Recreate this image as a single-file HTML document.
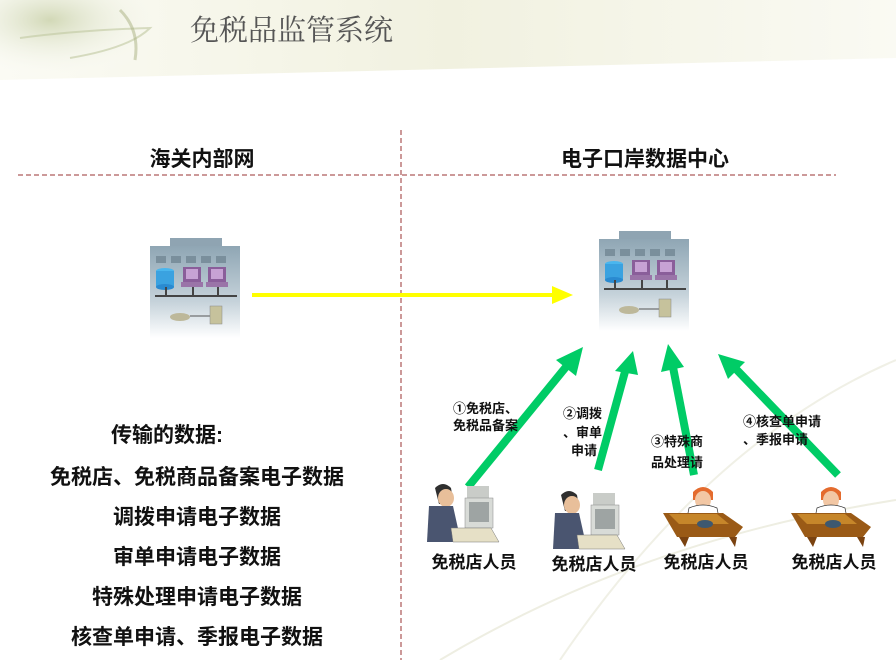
<!DOCTYPE html>
<html><head><meta charset="utf-8"><style>
html,body{margin:0;padding:0}
body{width:896px;height:660px;overflow:hidden;background:#fff;font-family:"Liberation Sans","Noto Sans CJK SC",sans-serif}
</style></head><body>
<svg width="896" height="660" viewBox="0 0 896 660" xmlns="http://www.w3.org/2000/svg" style="position:absolute;left:0;top:0">
<defs>
<linearGradient id="hdr" x1="0" y1="0" x2="1" y2="0">
<stop offset="0" stop-color="#fbfbf4"/><stop offset="0.5" stop-color="#f1f1e0"/><stop offset="1" stop-color="#fafaf3"/></linearGradient>
<linearGradient id="bld" x1="0" y1="0" x2="0" y2="1">
<stop offset="0" stop-color="#8fa6b4"/><stop offset="0.6" stop-color="#c5d2da"/><stop offset="1" stop-color="#ffffff"/></linearGradient>
<radialGradient id="sw" cx="0.25" cy="0.2" r="0.6"><stop offset="0" stop-color="#c8d0a8" stop-opacity="0.8"/><stop offset="1" stop-color="#fff" stop-opacity="0"/></radialGradient>
<g id="b">
<rect x="20" y="0" width="52" height="10" fill="#8fa4b2"/>
<rect x="0" y="8" width="90" height="92" fill="url(#bld)"/>
<g fill="#7a8f9c"><rect x="6" y="18" width="10" height="7"/><rect x="21" y="18" width="10" height="7"/><rect x="36" y="18" width="10" height="7"/><rect x="51" y="18" width="10" height="7"/><rect x="66" y="18" width="10" height="7"/></g>
<ellipse cx="15" cy="33" rx="9" ry="3" fill="#49b6ee"/><rect x="6" y="33" width="18" height="16" fill="#3aa2e0"/><ellipse cx="15" cy="49" rx="9" ry="3" fill="#2a8ad0"/>
<rect x="33" y="29" width="18" height="15" fill="#8a5e9a"/><rect x="36" y="31" width="12" height="10" fill="#c7a2d4"/><rect x="31" y="44" width="22" height="5" fill="#9a74a8"/>
<rect x="58" y="29" width="18" height="15" fill="#8a5e9a"/><rect x="61" y="31" width="12" height="10" fill="#c7a2d4"/><rect x="56" y="44" width="22" height="5" fill="#9a74a8"/>
<rect x="5" y="57" width="82" height="2" fill="#444"/>
<rect x="15" y="49" width="2" height="8" fill="#444"/><rect x="42" y="49" width="2" height="8" fill="#444"/><rect x="67" y="49" width="2" height="8" fill="#444"/>
<ellipse cx="30" cy="79" rx="10" ry="4" fill="#bdb89a"/><line x1="40" y1="78" x2="60" y2="78" stroke="#555"/>
<rect x="60" y="68" width="12" height="18" fill="#c6c29c" stroke="#888" stroke-width="0.5"/>
</g>
<g id="pc">
<path d="M8 10 q8-8 16 0 l2 12 -4 4 -10 0 z" fill="#2f2f2f"/>
<ellipse cx="19" cy="20" rx="8" ry="9" fill="#e8bf9a"/>
<path d="M2 28 l24 0 8 36 -34 0 z" fill="#4a5570"/>
<rect x="40" y="8" width="22" height="14" fill="#c9ccc8"/><rect x="38" y="20" width="28" height="30" fill="#d8dbd7" stroke="#888" stroke-width="0.5"/><rect x="42" y="24" width="20" height="20" fill="#9ea4a3"/>
<path d="M24 50 l40 0 8 14 -46 0 z" fill="#e6e0c6" stroke="#777" stroke-width="0.5"/>
</g>
<g id="ph">
<path d="M30 12 q10-10 20 0 l0 8 -20 0 z" fill="#e46b2e"/>
<ellipse cx="40" cy="20" rx="8" ry="9" fill="#f2c7a4"/>
<path d="M26 28 q14-6 28 0 l4 20 -36 0 z" fill="#fff" stroke="#333" stroke-width="0.7"/>
<path d="M0 33 l60 0 20 14 -8 10 -58 0 z" fill="#9a5a16"/>
<path d="M6 34 l48 0 12 10 -50 0 z" fill="#c6862a"/>
<ellipse cx="42" cy="44" rx="8" ry="4" fill="#3d5870"/>
<path d="M16 57 l6 10 4-10 z M66 57 l6 10 2-10 z" fill="#7a4210"/>
</g>
</defs>
<path d="M0 80 L896 58 L896 0 L0 0z" fill="url(#hdr)"/>
<rect x="0" y="0" width="200" height="100" fill="url(#sw)"/>
<path d="M20 38 q60 -8 130 -10 q-20 20 -80 30" fill="none" stroke="#c0c8a0" stroke-width="2" opacity="0.6"/>
<path d="M120 10 q20 20 15 50" fill="none" stroke="#a8b080" stroke-width="3" opacity="0.5"/>
<text x="190" y="40" font-family="'Noto Serif CJK SC',serif" font-size="29" fill="#555">免税品监管系统</text>
<path d="M440 660 q200 -120 456 -160" fill="none" stroke="#eeeee2" stroke-width="2"/>
<path d="M560 660 q150 -220 336 -300" fill="none" stroke="#f0f0e6" stroke-width="2"/>
<line x1="18" y1="175" x2="836" y2="175" stroke="#993333" stroke-width="1" stroke-dasharray="5,3"/>
<line x1="401" y1="130" x2="401" y2="660" stroke="#993333" stroke-width="1" stroke-dasharray="5,3"/>
<text x="202" y="166" font-size="21" font-weight="bold" text-anchor="middle" fill="#111">海关内部网</text>
<text x="645" y="166" font-size="21" font-weight="bold" text-anchor="middle" fill="#111">电子口岸数据中心</text>
<use href="#b" x="150" y="238"/>
<use href="#b" x="599" y="231"/>
<line x1="252" y1="295" x2="555" y2="295" stroke="#ffff00" stroke-width="4"/>
<path d="M552 286 L573 295 L552 304 Z" fill="#ffff00"/>
<g stroke="#00cc66" stroke-width="8" fill="none">
<line x1="468" y1="487" x2="570" y2="362"/>
<line x1="598" y1="470" x2="626" y2="368"/>
<line x1="694" y1="475" x2="672" y2="362"/>
<line x1="838" y1="475" x2="735" y2="368"/>
</g>
<g fill="#00cc66">
<path d="M583 347 L576 376 L556 360 Z"/>
<path d="M633 351 L638 375 L615 371 Z"/>
<path d="M668 344 L684 367 L661 372 Z"/>
<path d="M718 354 L745 362 L728 379 Z"/>
</g>
<g font-size="13" font-weight="bold" fill="#111">
<text x="453" y="413">①免税店、</text><text x="453" y="430">免税品备案</text>
<text x="563" y="418">②调拨</text><text x="563" y="437">、审单</text><text x="571" y="455">申请</text>
<text x="651" y="446">③特殊商</text><text x="651" y="467">品处理请</text>
<text x="743" y="426">④核查单申请</text><text x="743" y="444">、季报申请</text>
</g>
<use href="#pc" x="427" y="478"/>
<use href="#pc" x="553" y="485"/>
<use href="#ph" x="663" y="480"/>
<use href="#ph" x="791" y="480"/>
<g font-size="17" font-weight="bold" fill="#111" text-anchor="middle">
<text x="474" y="568">免税店人员</text><text x="594" y="570">免税店人员</text><text x="706" y="568">免税店人员</text><text x="834" y="568">免税店人员</text>
</g>
<g font-size="21" font-weight="bold" fill="#111" text-anchor="middle">
<text x="167" y="442">传输的数据:</text>
<text x="197" y="484">免税店、免税商品备案电子数据</text>
<text x="197" y="524">调拨申请电子数据</text>
<text x="197" y="564">审单申请电子数据</text>
<text x="197" y="604">特殊处理申请电子数据</text>
<text x="197" y="644">核查单申请、季报电子数据</text>
</g>
</svg>
</body></html>
